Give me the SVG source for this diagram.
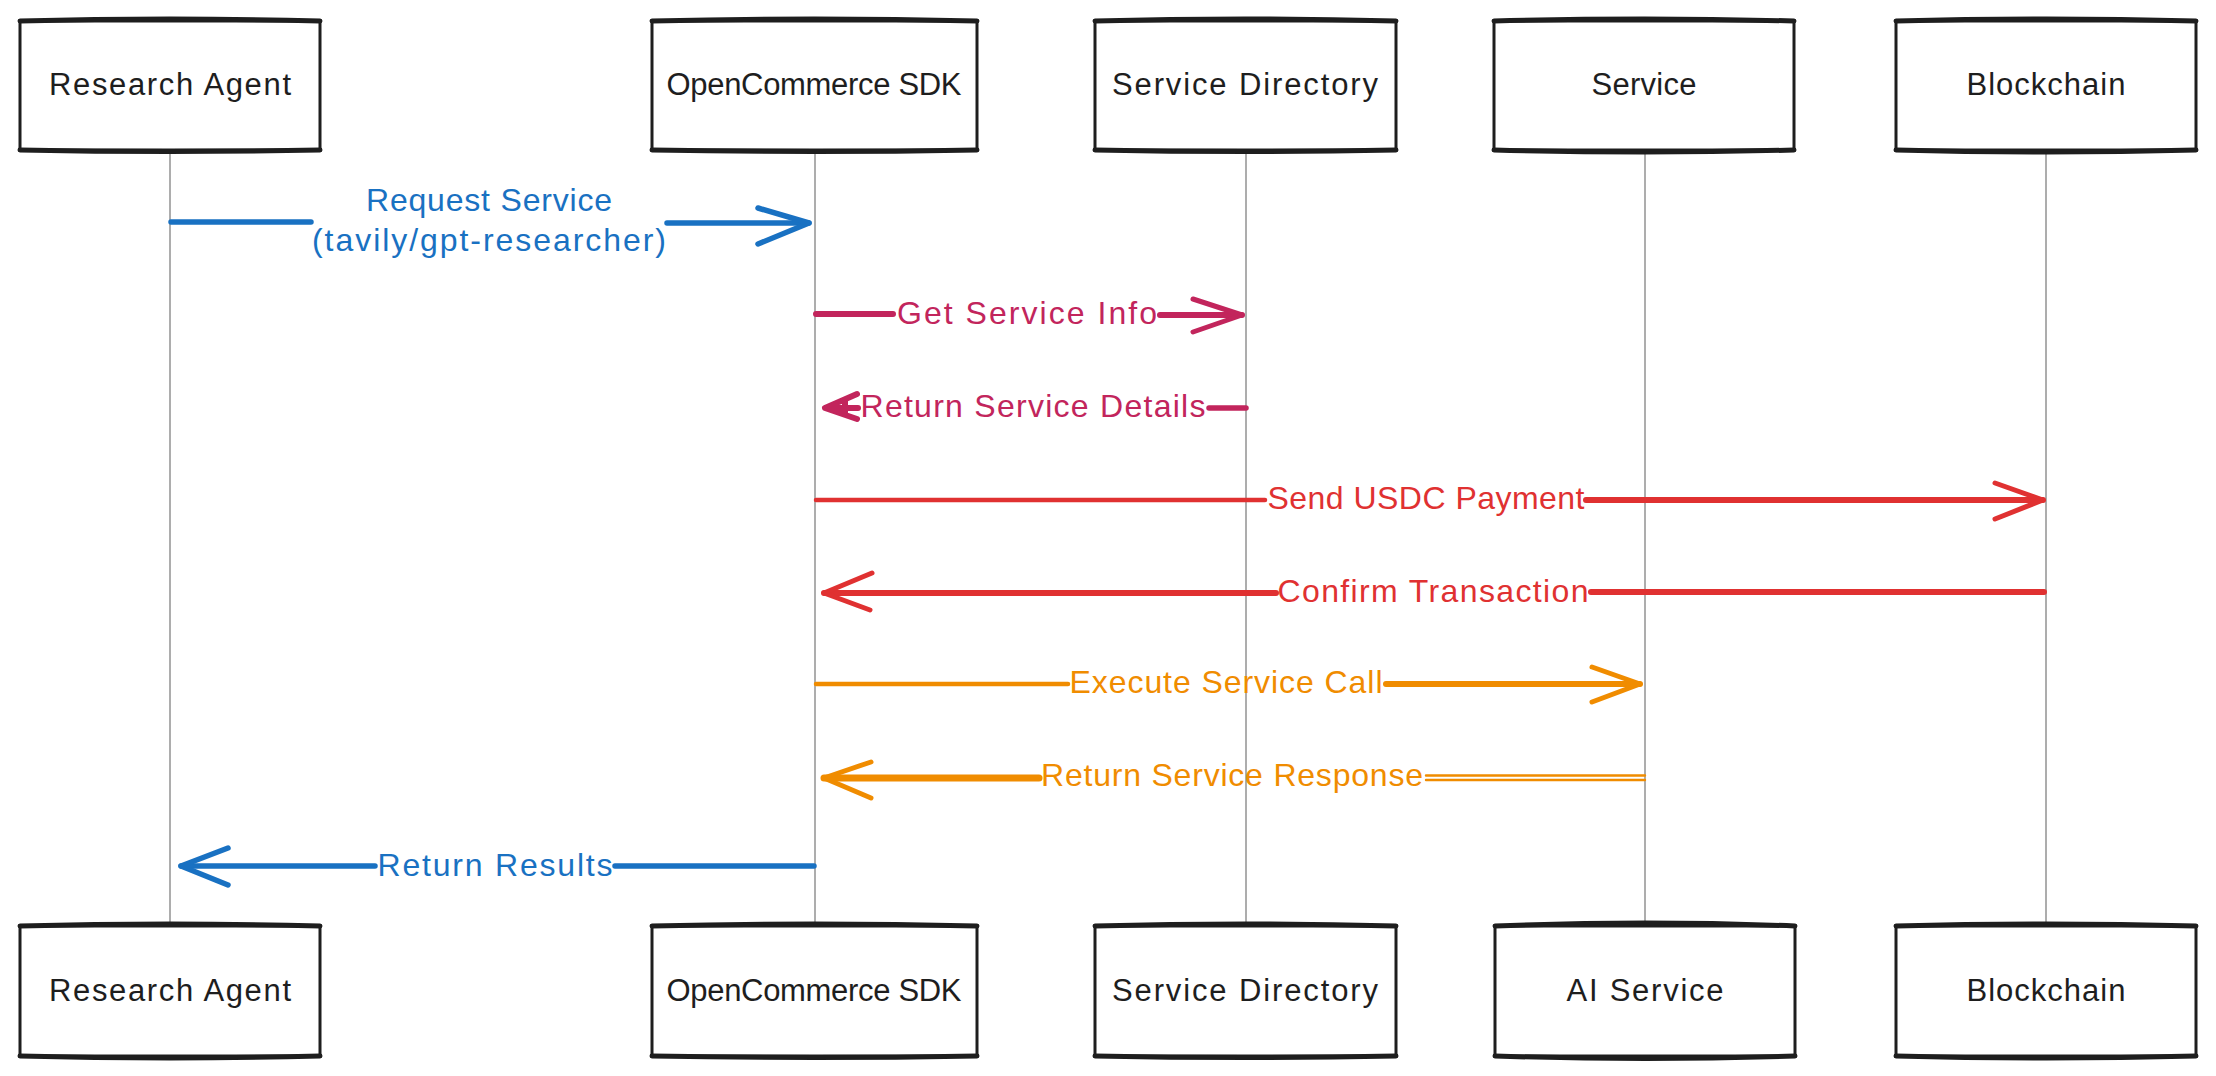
<svg xmlns="http://www.w3.org/2000/svg" width="2216" height="1076" viewBox="0 0 2216 1076">
<style>
.box{fill:#ffffff;stroke:#1e1e1e;stroke-width:3}
.edge{stroke:#1e1e1e;stroke-width:5;stroke-linecap:round;fill:none}
.nl{font-family:"Liberation Sans",Arial,sans-serif;font-size:31px;fill:#1e1e1e;text-anchor:middle}
.ml{font-family:"Liberation Sans",Arial,sans-serif;font-size:32px;text-anchor:middle}
.life{stroke:#999999;stroke-width:1.6;fill:none}
.a{fill:none;stroke-linecap:round;stroke-linejoin:round}
.blue{stroke:#1971c2}.crim{stroke:#c2255c}.red{stroke:#e03131}.orng{stroke:#f08c00}
.tb{fill:#1971c2}.tc{fill:#c2255c}.tr{fill:#e03131}.to{fill:#f08c00}
</style>
<rect width="2216" height="1076" fill="#ffffff"/>
<g id="lifelines">
<path class="life" d="M170 150V926"/>
<path class="life" d="M815 150V926"/>
<path class="life" d="M1246 150V926"/>
<path class="life" d="M1645 150V926"/>
<path class="life" d="M2046 150V926"/>
</g>
<g id="node-research-agent-top">
<rect class="box" x="20" y="21" width="300" height="129"/>
<path class="edge" d="M20 21Q170 17 320 21M20 150Q170 153 320 150"/>
<text class="nl" x="170" y="95" textLength="242">Research Agent</text>
</g>
<g id="node-sdk-top">
<rect class="box" x="652" y="21" width="325" height="129"/>
<path class="edge" d="M652 21Q814 17 977 21M652 150Q814 153 977 150"/>
<text class="nl" x="814" y="95" textLength="295">OpenCommerce SDK</text>
</g>
<g id="node-directory-top">
<rect class="box" x="1095" y="21" width="301" height="129"/>
<path class="edge" d="M1095 21Q1245 17 1396 21M1095 150Q1245 153 1396 150"/>
<text class="nl" x="1245" y="95" textLength="266">Service Directory</text>
</g>
<g id="node-service-top">
<rect class="box" x="1494" y="21" width="300" height="129"/>
<path class="edge" d="M1494 21Q1644 17 1794 21M1494 150Q1644 154 1794 150"/>
<text class="nl" x="1644" y="95" textLength="105">Service</text>
</g>
<g id="node-blockchain-top">
<rect class="box" x="1896" y="21" width="300" height="129"/>
<path class="edge" d="M1896 21Q2046 17 2196 21M1896 150Q2046 154 2196 150"/>
<text class="nl" x="2046" y="95" textLength="159">Blockchain</text>
</g>
<g id="node-research-agent-bottom">
<rect class="box" x="20" y="926" width="300" height="130"/>
<path class="edge" d="M20 926Q170 922 320 926M20 1056Q170 1060 320 1056"/>
<text class="nl" x="170" y="1001" textLength="242">Research Agent</text>
</g>
<g id="node-sdk-bottom">
<rect class="box" x="652" y="926" width="325" height="130"/>
<path class="edge" d="M652 926Q814 922 977 926M652 1056Q814 1059 977 1056"/>
<text class="nl" x="814" y="1001" textLength="295">OpenCommerce SDK</text>
</g>
<g id="node-directory-bottom">
<rect class="box" x="1095" y="926" width="301" height="130"/>
<path class="edge" d="M1095 926Q1245 922 1396 926M1095 1056Q1245 1059 1396 1056"/>
<text class="nl" x="1245" y="1001" textLength="266">Service Directory</text>
</g>
<g id="node-ai-service-bottom">
<rect class="box" x="1495" y="926" width="300" height="130"/>
<path class="edge" d="M1495 926Q1645 920 1795 926M1495 1056Q1645 1061 1795 1056"/>
<text class="nl" x="1645" y="1001" textLength="157">AI Service</text>
</g>
<g id="node-blockchain-bottom">
<rect class="box" x="1896" y="926" width="300" height="130"/>
<path class="edge" d="M1896 926Q2046 922 2196 926M1896 1056Q2046 1060 2196 1056"/>
<text class="nl" x="2046" y="1001" textLength="159">Blockchain</text>
</g>
<g id="connectors">
<path class="a blue" stroke-width="5.5" d="M171 222H311M667 223H809"/>
<path class="a blue" stroke-width="5.5" d="M758 208L809 223L758 244"/>
<text class="ml tb" x="489" y="211" textLength="246">Request Service</text>
<text class="ml tb" x="489" y="251" textLength="354">(tavily/gpt-researcher)</text>
<path class="a crim" stroke-width="6" d="M816 314H893M1160 315H1242"/>
<path class="a crim" stroke-width="5" d="M1193 299L1242 315L1193 332"/>
<text class="ml tc" x="1027" y="324" textLength="260">Get Service Info</text>
<path class="a crim" stroke-width="5.5" d="M1209 408H1246"/>
<path class="a crim" stroke-width="6" d="M857 394L825 408L857 419M826 408H858M845 400L845 414"/>
<text class="ml tc" x="1033" y="417" textLength="345">Return Service Details</text>
<path class="a red" stroke-width="4.5" d="M816 500H1265"/>
<path class="a red" stroke-width="6" d="M1586 500H2043"/>
<path class="a red" stroke-width="5" d="M1995 483L2043 500L1995 519"/>
<text class="ml tr" x="1426" y="509" textLength="317">Send USDC Payment</text>
<path class="a red" stroke-width="6" d="M824 593H1276M1591 592H2044"/>
<path class="a red" stroke-width="5" d="M872 573L824 593L870 610"/>
<text class="ml tr" x="1433" y="602" textLength="311">Confirm Transaction</text>
<path class="a orng" stroke-width="4.5" d="M816 684H1068"/>
<path class="a orng" stroke-width="6" d="M1386 684H1640"/>
<path class="a orng" stroke-width="5" d="M1592 667L1640 684L1592 702"/>
<text class="ml to" x="1226" y="693" textLength="313">Execute Service Call</text>
<path class="a orng" stroke-width="7" d="M824 778H1039"/>
<path class="a orng" stroke-width="2.4" d="M1426 775.5H1645M1426 780H1645"/>
<path class="a orng" stroke-width="5" d="M871 762L824 778L871 798"/>
<text class="ml to" x="1232" y="786" textLength="382">Return Service Response</text>
<path class="a blue" stroke-width="5.5" d="M181 866H375M615 866H814"/>
<path class="a blue" stroke-width="5.5" d="M228 848L181 866L228 885"/>
<text class="ml tb" x="495" y="876" textLength="235">Return Results</text>
</g>
</svg>
